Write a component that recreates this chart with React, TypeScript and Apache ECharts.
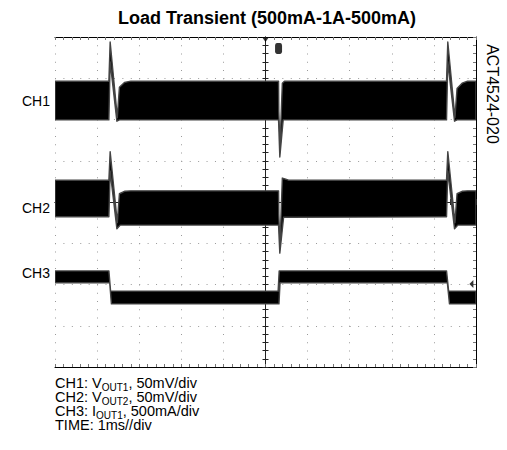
import React, { useEffect, useRef } from "react";
import * as echarts from "echarts";

// ---- text ----
const TITLE = "Load Transient (500mA-1A-500mA)";
const PART_CODE = "ACT4524-020";
const channelLabels = ["CH1", "CH2", "CH3"];
const channelLabelY = [101, 208, 273];
const legendMain = ["CH1: V", "CH2: V", "CH3: I", "TIME: 1ms//div"];
const legendSub = ["OUT1", "OUT2", "OUT1", ""];
const legendTail = [", 50mV/div", ", 50mV/div", ", 500mA/div", ""];

// ---- axes (divisions, centred screen) ----
const xDivMin = -5;
const xDivMax = 5;
const yDivMin = -4;
const yDivMax = 4;

// ---- channel envelopes [time div, level div] ----
const ch1Upper = [
  [-5, 2.93], [-3.72, 2.93], [-3.69, 3.88], [-3.52, 2.05], [-3.47, 2.78], [-3.35, 2.9], [-3.2, 2.93],
  [0.31, 2.93], [0.315, 2.2], [0.345, 1.35], [0.4, 2.88], [0.45, 2.93],
  [4.3, 2.93], [4.33, 3.88], [4.5, 2.05], [4.55, 2.75], [4.67, 2.88], [4.8, 2.93], [5, 2.93],
];
const ch1Lower = [
  [-5, 1.99], [-3.72, 1.99], [-3.69, 3.4], [-3.53, 1.96], [-3.47, 1.99],
  [0.31, 1.99], [0.34, 1.09], [0.42, 1.99],
  [4.3, 1.99], [4.33, 3.4], [4.49, 1.96], [4.55, 1.99], [5, 1.99],
];
const ch2Upper = [
  [-5, 0.53], [-3.72, 0.53], [-3.69, 1.22], [-3.52, -0.5], [-3.47, 0.2], [-3.35, 0.26], [-3.2, 0.27],
  [0.31, 0.27], [0.315, -0.3], [0.345, -1.05], [0.4, 0.58], [0.46, 0.56], [0.55, 0.53],
  [4.3, 0.53], [4.33, 1.22], [4.5, -0.5], [4.55, 0.2], [4.67, 0.26], [4.8, 0.27], [5, 0.27],
];
const ch2Lower = [
  [-5, -0.36], [-3.72, -0.36], [-3.69, 0.75], [-3.53, -0.65], [-3.45, -0.56],
  [0.31, -0.56], [0.34, -1.24], [0.43, -0.37], [0.5, -0.37],
  [4.3, -0.36], [4.33, 0.75], [4.49, -0.65], [4.57, -0.56], [5, -0.56],
];
const ch3Upper = [
  [-5, -1.67], [-3.72, -1.67], [-3.68, -2.16], [0.3, -2.16], [0.325, -1.67],
  [4.3, -1.67], [4.35, -2.16], [5, -2.16],
];
const ch3Lower = [
  [-5, -1.96], [-3.7, -1.96], [-3.66, -2.47], [0.32, -2.47], [0.345, -1.96],
  [4.32, -1.96], [4.37, -2.47], [5, -2.47],
];

// ---- scope markers ----
const triggerPosition = [[0, 4]];
const triggerLevel = [[0.31, 3.72]];
const ch3GroundMarker = [[4.89, -1.99]];

const bands = [
  { upper: ch1Upper, lower: ch1Lower },
  { upper: ch2Upper, lower: ch2Lower },
  { upper: ch3Upper, lower: ch3Lower },
];

const FONT = "'Liberation Sans', Arial, sans-serif";
const GRID_DOT = "#9a9a9a";

function edgeAxisX(position: "top" | "bottom", withSplit: boolean) {
  return {
    type: "value",
    min: xDivMin,
    max: xDivMax,
    interval: 1,
    position,
    axisLine: { show: true, onZero: false, lineStyle: { color: "#000", width: 1 } },
    axisTick: { show: true, inside: true, length: 3, lineStyle: { color: "#777" } },
    minorTick: { show: true, splitNumber: 5, length: 3, lineStyle: { color: "#777" } },
    axisLabel: { show: false },
    splitLine: withSplit
      ? { show: true, lineStyle: { color: GRID_DOT, width: 1, type: [1, 7.25] } }
      : { show: false },
  };
}

function centerAxisX(inside: boolean) {
  return {
    type: "value",
    min: xDivMin,
    max: xDivMax,
    interval: 1,
    position: "bottom",
    axisLine: { show: true, onZero: true, onZeroAxisIndex: 0, lineStyle: { color: "#222", width: 1 } },
    axisTick: { show: true, inside, length: 3, lineStyle: { color: "#222" } },
    minorTick: { show: true, splitNumber: 5, length: 3, lineStyle: { color: "#222" } },
    axisLabel: { show: false },
    splitLine: { show: false },
  };
}

function centerAxisY(inside: boolean) {
  return {
    type: "value",
    min: yDivMin,
    max: yDivMax,
    interval: 1,
    position: "left",
    axisLine: { show: true, onZero: true, onZeroAxisIndex: 0, lineStyle: { color: "#222", width: 1 } },
    axisTick: { show: true, inside, length: 3, lineStyle: { color: "#222" } },
    minorTick: { show: true, splitNumber: 5, length: 3, lineStyle: { color: "#222" } },
    axisLabel: { show: false },
    splitLine: { show: false },
  };
}

export default function App() {
  const ref = useRef<HTMLDivElement>(null);

  useEffect(() => {
    document.body.style.margin = "0";
    if (!ref.current) return;
    const chart = echarts.init(ref.current, undefined, { renderer: "svg" });

    const graphics: any[] = [
      {
        type: "text",
        x: 267,
        y: 18,
        style: {
          text: TITLE,
          font: `bold 18px ${FONT}`,
          fill: "#000",
          align: "center",
          verticalAlign: "middle",
          textAlign: "center",
          textVerticalAlign: "middle",
        },
      },
      {
        type: "text",
        x: 492,
        y: 94,
        rotation: -Math.PI / 2,
        style: {
          text: PART_CODE,
          font: `16px ${FONT}`,
          fill: "#000",
          align: "center",
          verticalAlign: "middle",
          textAlign: "center",
          textVerticalAlign: "middle",
        },
      },
    ];
    channelLabels.forEach((lab, i) => {
      graphics.push({
        type: "text",
        x: 22,
        y: channelLabelY[i],
        style: {
          text: lab,
          font: `14px ${FONT}`,
          fill: "#000",
          align: "left",
          verticalAlign: "middle",
          textAlign: "left",
          textVerticalAlign: "middle",
        },
      });
    });
    legendMain.forEach((m, i) => {
      const parts = `{a|${m}}` + (legendSub[i] ? `{b|${legendSub[i]}}` : "") + (legendTail[i] ? `{a|${legendTail[i]}}` : "");
      graphics.push({
        type: "text",
        x: 55,
        y: 383 + i * 14,
        style: {
          text: parts,
          fill: "#000",
          align: "left",
          verticalAlign: "middle",
          textAlign: "left",
          textVerticalAlign: "middle",
          rich: {
            a: { fontSize: 14.5, fontFamily: FONT, fill: "#000", lineHeight: 18, verticalAlign: "middle" },
            b: { fontSize: 10, fontFamily: FONT, fill: "#000", lineHeight: 10, verticalAlign: "bottom" },
          },
        },
      });
    });

    chart.setOption({
      animation: false,
      backgroundColor: "#fff",
      grid: { left: 55, right: 31, top: 37, bottom: 83, containLabel: false },
      xAxis: [
        edgeAxisX("bottom", true),
        edgeAxisX("top", false),
        centerAxisX(true),
        centerAxisX(false),
      ],
      yAxis: [
        {
          type: "value",
          min: yDivMin,
          max: yDivMax,
          interval: 1,
          position: "left",
          axisLine: { show: false, onZero: false },
          axisTick: { show: false },
          axisLabel: { show: false },
          splitLine: { show: true, lineStyle: { color: GRID_DOT, width: 1, type: [1, 7.42] } },
        },
        {
          type: "value",
          min: yDivMin,
          max: yDivMax,
          interval: 1,
          position: "right",
          axisLine: { show: true, onZero: false, lineStyle: { color: "#000", width: 1 } },
          axisTick: { show: true, inside: true, length: 3, lineStyle: { color: "#777" } },
          minorTick: { show: true, splitNumber: 5, length: 3, lineStyle: { color: "#777" } },
          axisLabel: { show: false },
          splitLine: { show: false },
        },
        centerAxisY(true),
        centerAxisY(false),
      ],
      series: [
        {
          type: "custom",
          coordinateSystem: "cartesian2d",
          xAxisIndex: 0,
          yAxisIndex: 0,
          silent: true,
          clip: true,
          data: bands.map((b) => b.upper[0]),
          renderItem: (params: any, api: any) => {
            const b = bands[params.dataIndex];
            const pts = [...b.upper, ...b.lower.slice().reverse()].map((p) => api.coord(p));
            return {
              type: "polygon",
              shape: { points: pts },
              style: { fill: "#000", stroke: "#444", lineWidth: 1.4, lineJoin: "round" },
            };
          },
          z: 5,
        },
        {
          type: "scatter",
          xAxisIndex: 0,
          yAxisIndex: 0,
          silent: true,
          data: triggerPosition,
          symbol: "triangle",
          symbolRotate: 180,
          symbolSize: [7, 5],
          symbolOffset: [0, 2.5],
          itemStyle: { color: "#000" },
          z: 10,
        },
        {
          type: "scatter",
          xAxisIndex: 0,
          yAxisIndex: 0,
          silent: true,
          data: triggerLevel,
          symbol: "roundRect",
          symbolSize: [7, 11],
          itemStyle: { color: "#000" },
          z: 10,
        },
        {
          type: "scatter",
          xAxisIndex: 0,
          yAxisIndex: 0,
          silent: true,
          data: ch3GroundMarker,
          symbol: "triangle",
          symbolRotate: 90,
          symbolSize: [8, 4],
          itemStyle: { color: "#000" },
          z: 10,
        },
      ],
      graphic: graphics,
    });

    return () => {
      chart.dispose();
    };
  }, []);

  return <div ref={ref} style={{ width: 507, height: 450 }} />;
}
